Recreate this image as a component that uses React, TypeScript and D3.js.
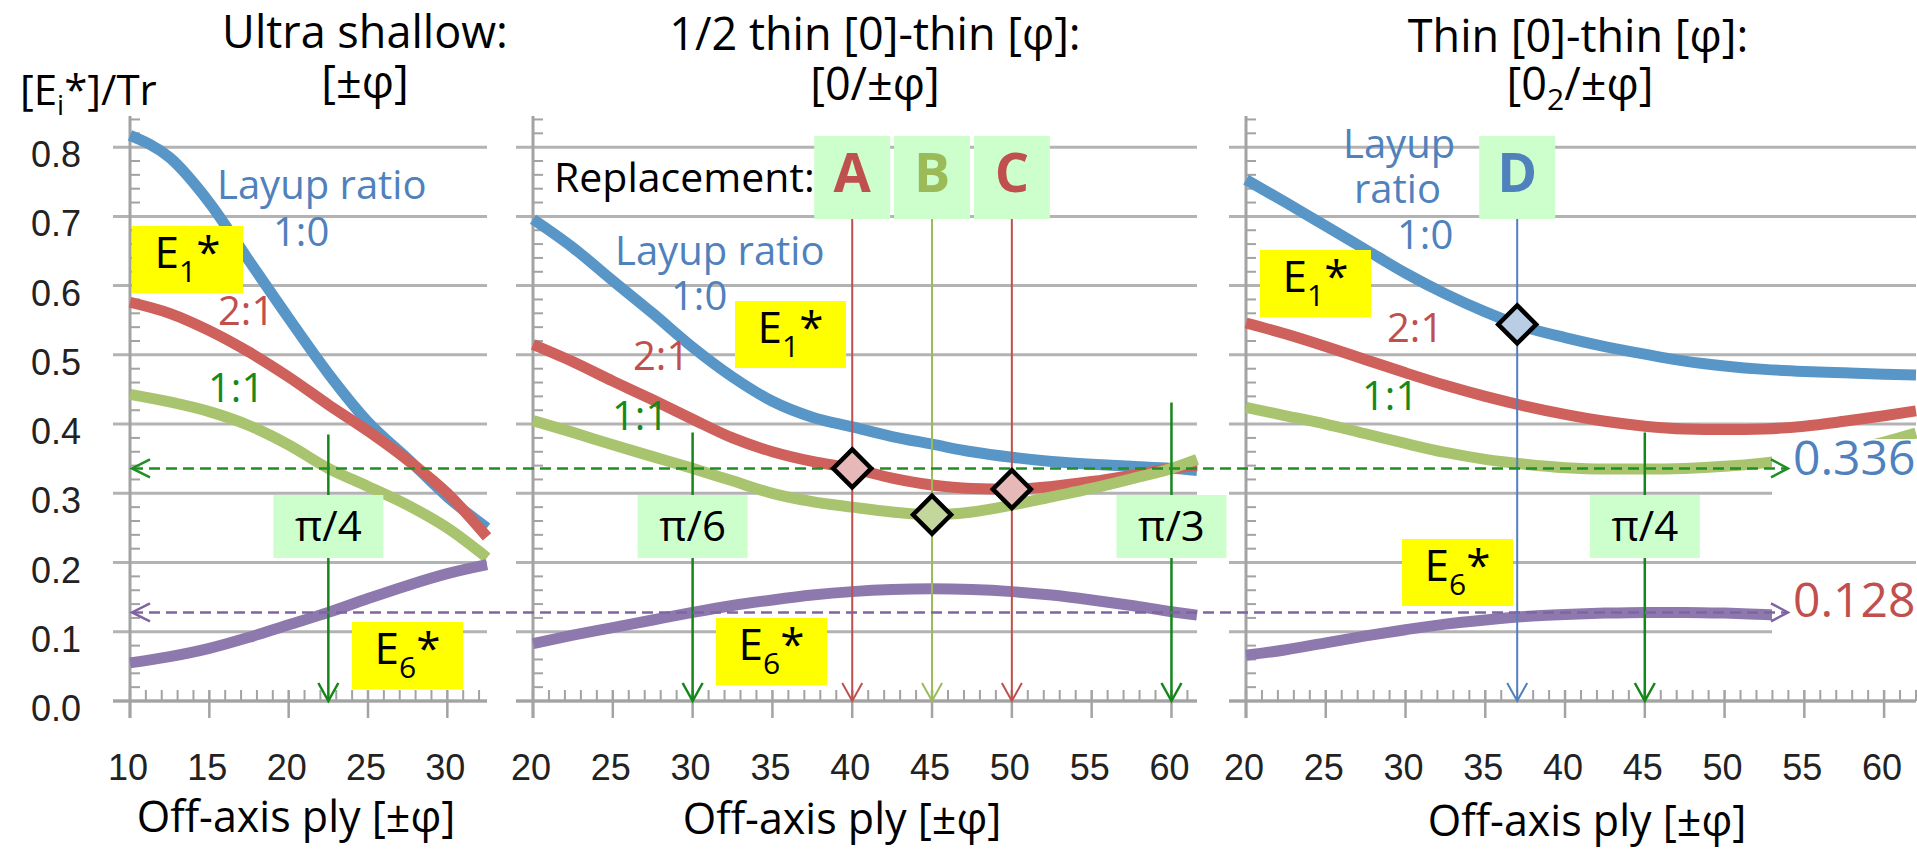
import React from "react";
import * as d3 from "d3";

// ---- data -------------------------------------------------------------
// Ultra shallow [±φ]
const shallowAngles = [10, 12.5, 15, 17.5, 20, 22.5, 25, 27.5, 30, 32.5];
const shallowE1Ratio10 = [0.817, 0.785, 0.72, 0.636, 0.553, 0.473, 0.403, 0.35, 0.295, 0.25];
const shallowE1Ratio21 = [0.576, 0.56, 0.535, 0.504, 0.468, 0.428, 0.39, 0.348, 0.3, 0.237];
const shallowE1Ratio11 = [0.443, 0.432, 0.418, 0.398, 0.37, 0.336, 0.31, 0.283, 0.25, 0.207];
const shallowE6 = [0.055, 0.064, 0.076, 0.092, 0.11, 0.128, 0.148, 0.167, 0.184, 0.197];

// 1/2 thin [0]-thin [φ]: [0/±φ]
const halfAngles = [20, 22.5, 25, 27.5, 30, 32.5, 35, 37.5, 40, 42.5, 45, 47.5, 50, 52.5, 55, 57.5, 60, 61.6];
const halfE1Ratio10 = [0.696, 0.655, 0.607, 0.56, 0.511, 0.468, 0.433, 0.41, 0.396, 0.382, 0.371, 0.36, 0.352, 0.346, 0.342, 0.339, 0.336, 0.333];
const halfE1Ratio21 = [0.515, 0.49, 0.462, 0.435, 0.407, 0.38, 0.36, 0.346, 0.336, 0.322, 0.312, 0.307, 0.306, 0.31, 0.317, 0.326, 0.336, 0.34];
const halfE1Ratio11 = [0.405, 0.388, 0.37, 0.353, 0.336, 0.318, 0.3, 0.288, 0.28, 0.273, 0.269, 0.273, 0.283, 0.295, 0.307, 0.321, 0.336, 0.349];
const halfE6 = [0.083, 0.095, 0.106, 0.117, 0.128, 0.138, 0.146, 0.153, 0.158, 0.161, 0.162, 0.161, 0.158, 0.153, 0.146, 0.138, 0.129, 0.124];

// Thin [0]-thin [φ]: [0_2/±φ]
const thinAngles = [20, 22.5, 25, 27.5, 30, 32.5, 35, 37.5, 40, 42.5, 45, 47.5, 50, 52.5, 55, 57.5, 60, 62];
const thinE1Ratio10 = [0.753, 0.72, 0.686, 0.652, 0.618, 0.588, 0.562, 0.54, 0.525, 0.512, 0.501, 0.491, 0.484, 0.479, 0.476, 0.474, 0.472, 0.471];
const thinE1Ratio21 = [0.546, 0.53, 0.512, 0.493, 0.474, 0.456, 0.44, 0.426, 0.414, 0.404, 0.397, 0.393, 0.392, 0.393, 0.397, 0.404, 0.412, 0.419];
const thinE1Ratio11 = [0.424, 0.412, 0.4, 0.386, 0.372, 0.359, 0.349, 0.342, 0.337, 0.335, 0.335, 0.336, 0.339, 0.344, 0.351, 0.361, 0.374, 0.387];
const thinE6 = [0.066, 0.074, 0.084, 0.094, 0.103, 0.111, 0.117, 0.122, 0.125, 0.127, 0.128, 0.128, 0.127, 0.125, 0.123, 0.121, 0.119, 0.117];

const yTickValues = [0, 0.1, 0.2, 0.3, 0.4, 0.5, 0.6, 0.7, 0.8];
const yTickLabels = ["0.0", "0.1", "0.2", "0.3", "0.4", "0.5", "0.6", "0.7", "0.8"];
const shallowTicks = [10, 15, 20, 25, 30];
const halfTicks = [20, 25, 30, 35, 40, 45, 50, 55, 60];
const thinTicks = [20, 25, 30, 35, 40, 45, 50, 55, 60];

// reference levels carried across the panels
const refLevels = [
  { value: 0.336, label: "0.336", kind: "e1" },
  { value: 0.128, label: "0.128", kind: "e6" },
];

// angle markers (π fractions)
const piMarks = [
  { panel: "shallow", angle: 22.5, label: "π/4", top: 0.385 },
  { panel: "half", angle: 30, label: "π/6", top: 0.388 },
  { panel: "half", angle: 60, label: "π/3", top: 0.431 },
  { panel: "thin", angle: 45, label: "π/4", top: 0.388 },
];

// replacement layups
const replacements = [
  { panel: "half", angle: 40, letter: "A", value: 0.336, kind: "red" },
  { panel: "half", angle: 45, letter: "B", value: 0.269, kind: "green" },
  { panel: "half", angle: 50, letter: "C", value: 0.306, kind: "red" },
  { panel: "thin", angle: 37, letter: "D", value: 0.544, kind: "blue" },
];

// ---- styling ----------------------------------------------------------
const FONT = "'Open Sans', 'Noto Sans', sans-serif";
const TICK_FONT = "'Liberation Sans', Arial, sans-serif";
const CURVE = { blue: "#5896c8", red: "#cf615c", green: "#a8c46e", purple: "#8d79ad" };
const TEXT = { blue: "#4f81bd", red: "#c0504d", green: "#16891a", olive: "#9bbb59" };
const MARK_FILL: Record<string, string> = { red: "#e6b9b8", green: "#c3d69b", blue: "#b9cde5" };
const MARK_LINE: Record<string, string> = { red: "#c0504d", green: "#9bbb59", blue: "#4f81bd" };
const GRID = "#b3b3b3";
const AXIS = "#a3a3a3";
const ANNOT_GREEN = "#14861a";
const DASH_GREEN = "#1f8f25";
const DASH_PURPLE = "#8064a2";
const BOX_GREEN = "#ccffcc";
const BOX_YELLOW = "#ffff00";

const yScale = d3.scaleLinear().domain([0, 0.845]).range([701, 116]);

const panels = [
  {
    key: "shallow",
    angles: shallowAngles,
    series: [
      { values: shallowE1Ratio10, color: CURVE.blue },
      { values: shallowE1Ratio21, color: CURVE.red },
      { values: shallowE1Ratio11, color: CURVE.green },
      { values: shallowE6, color: CURVE.purple },
    ],
    ticks: shallowTicks,
    x: d3.scaleLinear().domain([10, 32.5]).range([130, 487]),
  },
  {
    key: "half",
    angles: halfAngles,
    series: [
      { values: halfE1Ratio10, color: CURVE.blue },
      { values: halfE1Ratio21, color: CURVE.red },
      { values: halfE1Ratio11, color: CURVE.green },
      { values: halfE6, color: CURVE.purple },
    ],
    ticks: halfTicks,
    x: d3.scaleLinear().domain([20, 61.6]).range([533, 1197]),
  },
  {
    key: "thin",
    angles: thinAngles,
    series: [
      { values: thinE1Ratio10, color: CURVE.blue },
      { values: thinE1Ratio21, color: CURVE.red },
      { values: thinE1Ratio11, color: CURVE.green },
      { values: thinE6, color: CURVE.purple },
    ],
    ticks: thinTicks,
    x: d3.scaleLinear().domain([20, 62]).range([1246, 1916]),
  },
];

const panelX = (key: string) => panels.find((p) => p.key === key)!.x;

function Axes({ x, ticks }: { x: d3.ScaleLinear<number, number>; ticks: number[] }) {
  const [x0, x1] = x.range();
  const [d0, d1] = x.domain();
  const y0 = yScale(0);
  const yTop = yScale.range()[1];
  const minorY = d3.range(0, 0.845, 0.02).filter((v) => Math.abs(v * 10 - Math.round(v * 10)) > 1e-6);
  const minorX = d3.range(Math.ceil(d0), d1 + 1e-6, 1).filter((v) => v % 5 !== 0);
  return (
    <g>
      {yTickValues.map((v) => (
        <line key={"g" + v} x1={x0 - 17} x2={x1} y1={yScale(v)} y2={yScale(v)} stroke={GRID} strokeWidth={3} />
      ))}
      {minorY.map((v) => (
        <line key={"my" + v} x1={x0} x2={x0 + 10} y1={yScale(v)} y2={yScale(v)} stroke={AXIS} strokeWidth={2} />
      ))}
      {minorX.map((v) => (
        <line key={"mx" + v} x1={x(v)} x2={x(v)} y1={y0} y2={y0 - 11} stroke={AXIS} strokeWidth={2} />
      ))}
      {ticks.map((v) => (
        <line key={"tx" + v} x1={x(v)} x2={x(v)} y1={y0 - 11} y2={y0 + 17} stroke={AXIS} strokeWidth={2.5} />
      ))}
      <line x1={x0} x2={x0} y1={yTop} y2={y0 + 17} stroke={AXIS} strokeWidth={3} />
      <line x1={x0 - 17} x2={x1} y1={y0} y2={y0} stroke={AXIS} strokeWidth={3} />
      {ticks.map((v) => (
        <text key={"lx" + v} x={x(v) - 2} y={780} textAnchor="middle" fontFamily={TICK_FONT} fontSize={36} fill="#222">
          {v}
        </text>
      ))}
    </g>
  );
}

function ELabel({ x, y, sub }: { x: number; y: number; sub: string }) {
  const w = 111;
  const h = 67;
  return (
    <g>
      <rect x={x} y={y} width={w} height={h} fill={BOX_YELLOW} />
      <text x={x + w / 2} y={y + 42} textAnchor="middle" fontFamily={FONT} fill="#000">
        <tspan fontSize={44}>E</tspan>
        <tspan fontSize={30} dy={14}>{sub}</tspan>
        <tspan fontSize={44} dy={-14}>*</tspan>
      </text>
    </g>
  );
}

function DownArrow({ x, y1, color, width }: { x: number; y1: number; color: string; width: number }) {
  const y0 = yScale(0);
  return (
    <g stroke={color} strokeWidth={width} fill="none">
      <line x1={x} x2={x} y1={y1} y2={y0} />
      <path d={`M${x - 10},${y0 - 18} L${x},${y0} L${x + 10},${y0 - 18}`} />
    </g>
  );
}

export default function App() {
  const leftX = panels[0].x.range()[0];
  const labelX = 1772;
  const arrowTip = 1788;

  return (
    <svg
      width={1917}
      height={851}
      viewBox="0 0 1917 851"
      style={{ position: "absolute", left: 0, top: 0, background: "#fff" }}
    >
      <rect x={0} y={0} width={1917} height={851} fill="#fff" />

      {/* axes and grid */}
      {panels.map((p) => (
        <Axes key={p.key} x={p.x} ticks={p.ticks} />
      ))}

      {/* y tick labels (shared scale, drawn on the first panel) */}
      {yTickValues.map((v, i) => (
        <text key={v} x={81} y={yScale(v) + 20} textAnchor="end" fontFamily={TICK_FONT} fontSize={36} fill="#222">
          {yTickLabels[i]}
        </text>
      ))}

      {/* curves */}
      {panels.map((p) =>
        p.series.map((s, si) => {
          const line = d3
            .line<number>()
            .x((_, i) => p.x(p.angles[i]))
            .y((d) => yScale(d))
            .curve(d3.curveMonotoneX);
          return (
            <path
              key={p.key + si}
              d={line(s.values) || ""}
              fill="none"
              stroke={s.color}
              strokeWidth={11}
              strokeLinecap="butt"
            />
          );
        })
      )}

      {/* white backing for the reference values */}
      <rect x={labelX} y={439} width={1917 - labelX} height={61} fill="#fff" />
      <rect x={labelX} y={585} width={1917 - labelX} height={60} fill="#fff" />

      {/* π markers */}
      {piMarks.map((m) => {
        const x = panelX(m.panel)(m.angle);
        return <DownArrow key={m.panel + m.angle} x={x} y1={yScale(m.top)} color={ANNOT_GREEN} width={2.5} />;
      })}

      {/* replacement lines */}
      {replacements.map((r) => {
        const x = panelX(r.panel)(r.angle);
        return <DownArrow key={r.letter} x={x} y1={219} color={MARK_LINE[r.kind]} width={2} />;
      })}

      {/* dashed reference levels */}
      {refLevels.map((r) => {
        const y = yScale(r.value);
        const c = r.kind === "e1" ? DASH_GREEN : DASH_PURPLE;
        return (
          <g key={r.label} stroke={c} strokeWidth={2.5} fill="none">
            <line x1={leftX + 2} x2={arrowTip} y1={y} y2={y} strokeDasharray="11 6" />
            <path d={`M${leftX + 20},${y - 9} L${leftX + 2},${y} L${leftX + 20},${y + 9}`} />
            <path d={`M${arrowTip - 17},${y - 9} L${arrowTip},${y} L${arrowTip - 17},${y + 9}`} />
          </g>
        );
      })}
      <text x={1793} y={475} fontFamily={FONT} fontSize={48} fill={TEXT.blue}>
        {refLevels[0].label}
      </text>
      <text x={1793} y={617} fontFamily={FONT} fontSize={48} fill={TEXT.red}>
        {refLevels[1].label}
      </text>

      {/* π label boxes */}
      {piMarks.map((m) => {
        const x = panelX(m.panel)(m.angle);
        return (
          <g key={"b" + m.panel + m.angle}>
            <rect x={x - 55} y={495} width={110} height={63} fill={BOX_GREEN} />
            <text x={x} y={541} textAnchor="middle" fontFamily={FONT} fontSize={42} fill="#000">
              {m.label}
            </text>
          </g>
        );
      })}

      {/* replacement letter boxes */}
      {replacements.map((r) => {
        const x = panelX(r.panel)(r.angle);
        return (
          <g key={"rb" + r.letter}>
            <rect x={x - 38} y={136} width={76} height={83} fill={BOX_GREEN} />
            <text
              x={x}
              y={192}
              textAnchor="middle"
              fontFamily={FONT}
              fontWeight={700}
              fontSize={54}
              fill={r.kind === "green" ? TEXT.olive : r.kind === "blue" ? TEXT.blue : TEXT.red}
            >
              {r.letter}
            </text>
          </g>
        );
      })}

      {/* replacement points */}
      {replacements.map((r) => {
        const x = panelX(r.panel)(r.angle);
        const y = yScale(r.value);
        return (
          <path
            key={"d" + r.letter}
            d={`M${x},${y - 19} L${x + 19},${y} L${x},${y + 19} L${x - 19},${y} Z`}
            fill={MARK_FILL[r.kind]}
            stroke="#000"
            strokeWidth={4.5}
            strokeLinejoin="miter"
          />
        );
      })}

      {/* modulus tags */}
      <ELabel x={132} y={226} sub="1" />
      <ELabel x={352} y={622} sub="6" />
      <ELabel x={735} y={301} sub="1" />
      <ELabel x={716} y={618} sub="6" />
      <ELabel x={1260} y={250} sub="1" />
      <ELabel x={1402} y={539} sub="6" />

      {/* layup ratio labels */}
      <g fontFamily={FONT} fontSize={40}>
        <text x={217} y={199} fill={TEXT.blue}>Layup ratio</text>
        <text x={273} y={246} fill={TEXT.blue}>1:0</text>
        <text x={218} y={325} fill={TEXT.red}>2:1</text>
        <text x={208} y={402} fill={TEXT.green}>1:1</text>

        <text x={615} y={265} fill={TEXT.blue}>Layup ratio</text>
        <text x={671} y={310} fill={TEXT.blue}>1:0</text>
        <text x={633} y={370} fill={TEXT.red}>2:1</text>
        <text x={612} y={430} fill={TEXT.green}>1:1</text>

        <text x={1343} y={158} fill={TEXT.blue}>Layup</text>
        <text x={1354} y={203} fill={TEXT.blue}>ratio</text>
        <text x={1397} y={249} fill={TEXT.blue}>1:0</text>
        <text x={1387} y={342} fill={TEXT.red}>2:1</text>
        <text x={1362} y={410} fill={TEXT.green}>1:1</text>
      </g>

      <text x={554} y={192} fontFamily={FONT} fontSize={41} fill="#000">
        Replacement:
      </text>

      {/* titles */}
      <g fontFamily={FONT} fontSize={45} fill="#000" textAnchor="middle">
        <text x={365} y={48}>Ultra shallow:</text>
        <text x={365} y={98}>[±φ]</text>
        <text x={875} y={50}>1/2 thin [0]-thin [φ]:</text>
        <text x={875} y={100}>[0/±φ]</text>
        <text x={1578} y={52}>Thin [0]-thin [φ]:</text>
        <text x={1580} y={100}>
          [0<tspan fontSize={30} dy={10}>2</tspan>
          <tspan dy={-10}>/±φ]</tspan>
        </text>
      </g>

      {/* y axis title */}
      <text x={20} y={105} fontFamily={FONT} fontSize={42} fill="#000">
        [E<tspan fontSize={28} dy={10}>i</tspan>
        <tspan dy={-10}>*]/Tr</tspan>
      </text>

      {/* x axis titles */}
      <g fontFamily={FONT} fontSize={43} fill="#000" textAnchor="middle">
        <text x={296} y={832}>Off-axis ply [±φ]</text>
        <text x={842} y={834}>Off-axis ply [±φ]</text>
        <text x={1587} y={836}>Off-axis ply [±φ]</text>
      </g>
    </svg>
  );
}
